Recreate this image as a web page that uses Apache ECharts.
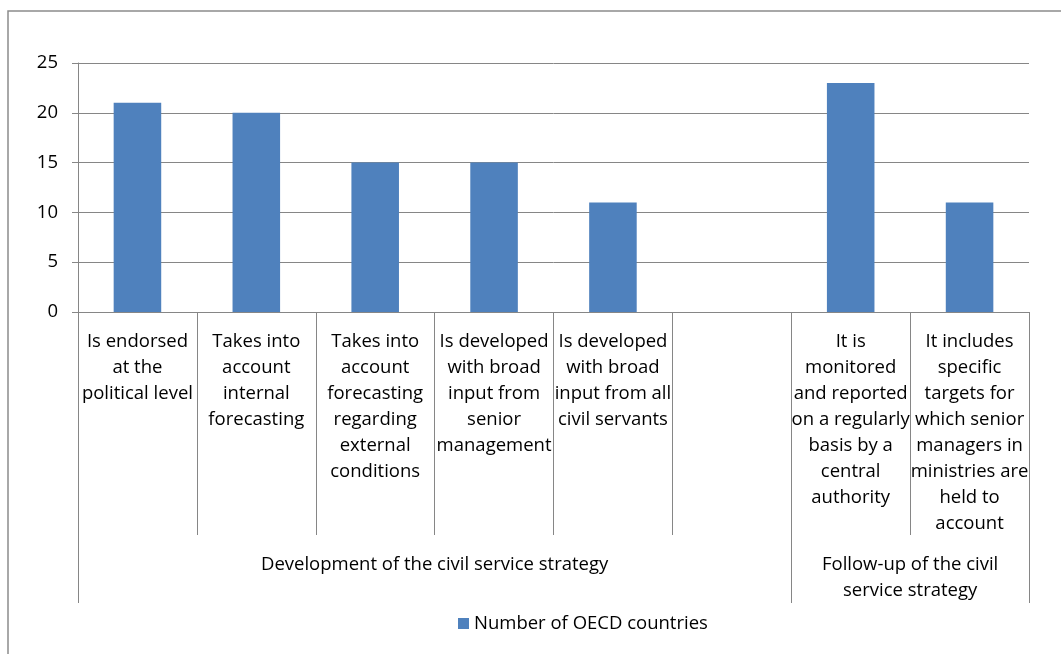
<!DOCTYPE html>
<html>
<head>
<meta charset="utf-8">
<script src="https://cdn.jsdelivr.net/npm/echarts@6/dist/echarts.min.js"></script>
<style>
html,body{margin:0;padding:0;background:#fff;}
#chart{width:1061px;height:654px;}
</style>
</head>
<body>
<div id="chart"></div>
<script>
var categories = [
  "Is endorsed\nat the\npolitical level",
  "Takes into\naccount\ninternal\nforecasting",
  "Takes into\naccount\nforecasting\nregarding\nexternal\nconditions",
  "Is developed\nwith broad\ninput from\nsenior\nmanagement",
  "Is developed\nwith broad\ninput from all\ncivil servants",
  "",
  "It is\nmonitored\nand reported\non a regularly\nbasis by a\ncentral\nauthority",
  "It includes\nspecific\ntargets for\nwhich senior\nmanagers in\nministries are\nheld to\naccount"
];
var values = [21, 20, 15, 15, 11, null, 23, 11];
var seriesName = "Number of OECD countries";
var groupLabels = ["Development of the civil service strategy", "Follow-up of the civil\nservice strategy"];
// groups: first spans categories 0-5, second 6-7
var groupSpans = [6, 2];
var yTicks = {min: 0, max: 25, interval: 5};

// build half-band point axis for group labels
var nCat = categories.length;
var groupAxisData = [];
for (var i = 0; i <= nCat * 2; i++) groupAxisData.push("");
var groupBoundaries = [0];
var start = 0;
groupSpans.forEach(function (span, gi) {
  var centerHalf = start * 2 + span; // midpoint in half-band units
  groupAxisData[centerHalf] = groupLabels[gi];
  start += span;
  groupBoundaries.push(start * 2);
});

var FONT = "Open Sans";
var FS = 18.5;
var GRAY = "#868686";

var chart = echarts.init(document.getElementById("chart"), null, {renderer: "canvas"});
chart.setOption({
  animation: false,
  backgroundColor: "#fff",
  graphic: [{
    type: "rect",
    shape: {x: 8, y: 11, width: 1100, height: 700},
    style: {fill: "none", stroke: "#8c8c8c", lineWidth: 1.5},
    z: -10
  }],
  grid: {left: 78, right: 32, top: 63, bottom: 342, containLabel: false},
  legend: {
    data: [seriesName],
    left: 453, top: 609,
    icon: "rect", itemWidth: 11, itemHeight: 11, itemGap: 10,
    textStyle: {fontFamily: FONT, fontSize: FS, color: "#000"}
  },
  xAxis: [{
    type: "category",
    data: categories,
    position: "bottom",
    axisLine: {show: true, lineStyle: {color: GRAY, width: 1}},
    axisTick: {show: true, interval: 0, length: 223, lineStyle: {color: GRAY, width: 1}},
    axisLabel: {
      interval: 0, hideOverlap: false, margin: 17,
      fontFamily: FONT, fontSize: FS, color: "#000", lineHeight: 25.9, align: "center"
    },
    splitLine: {show: false}
  }, {
    type: "category",
    data: groupAxisData,
    boundaryGap: false,
    position: "bottom",
    min: 0, max: nCat * 2,
    axisLine: {show: false},
    axisTick: {
      show: true, length: 291,
      interval: function (idx) { return groupBoundaries.indexOf(idx) >= 0; },
      lineStyle: {color: GRAY, width: 1}
    },
    axisLabel: {
      interval: 0, hideOverlap: false, margin: 240,
      fontFamily: FONT, fontSize: FS, color: "#000", lineHeight: 25.9, align: "center"
    },
    splitLine: {show: false}
  }],
  yAxis: {
    type: "value",
    min: yTicks.min, max: yTicks.max, interval: yTicks.interval,
    axisLine: {show: true, lineStyle: {color: GRAY, width: 1}},
    axisTick: {show: true, length: 6, lineStyle: {color: GRAY, width: 1}},
    axisLabel: {margin: 20, fontFamily: FONT, fontSize: FS, color: "#000"},
    splitLine: {show: true, lineStyle: {color: GRAY, width: 1}}
  },
  series: [{
    name: seriesName,
    type: "bar",
    xAxisIndex: 0,
    data: values,
    barWidth: "40%",
    itemStyle: {color: "#4F81BD"}
  }]
});
</script>
</body>
</html>
